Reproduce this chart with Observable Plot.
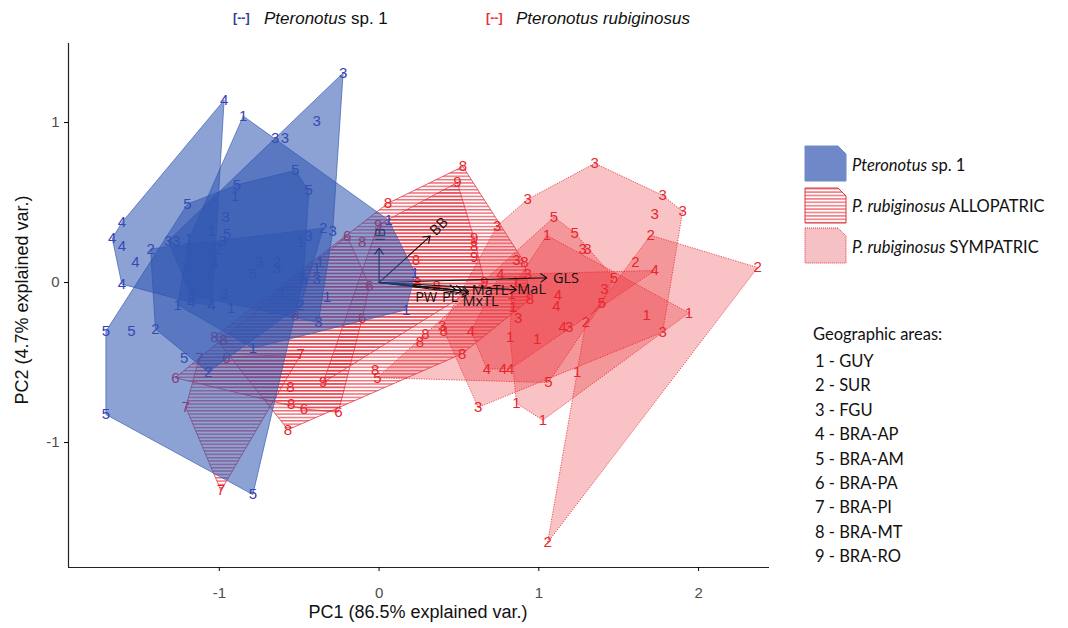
<!DOCTYPE html>
<html><head><meta charset="utf-8">
<script src="https://cdn.jsdelivr.net/npm/d3@7"></script>
<script src="https://cdn.jsdelivr.net/npm/@observablehq/plot@0.6"></script>
<style>
body{margin:0;background:#fff;}
#wrap{position:relative;width:1068px;height:628px;overflow:hidden;font-family:"Liberation Sans",Arial,sans-serif;}
#wrap svg.plot{position:absolute;left:0;top:0;}
.abs{position:absolute;white-space:nowrap;line-height:1;}
.cal{font-family:Lato,"Open Sans",sans-serif;color:#111;}
g[aria-label="x-axis tick label"], g[aria-label="y-axis tick label"]{fill:#4d4d4d;}
</style></head><body><div id="wrap"></div>
<script>
// ---- Geographic areas (digit code = index+1)
const areaNames = ["GUY","SUR","FGU","BRA-AP","BRA-AM","BRA-PA","BRA-PI","BRA-MT","BRA-RO"];

// ---- Pteronotus sp. 1 scores [PC1, PC2] by area
const sp1_GUY = [[-0.85,1.04],[0.06,0.39],[0.225,0.06],[0.17,-0.17],[-0.79,-0.41],[-1.26,-0.14],[-1.19,0.27],[-0.90,0.54],[-1.05,0.32],[-0.49,0.25],[-0.37,0.13],[-0.39,0.09],[-0.61,-0.06],[-0.325,-0.09],[-0.925,-0.16]];
const sp1_SUR = [[-1.43,0.21],[-0.35,0.34],[-0.49,-0.14],[-1.07,-0.56],[-1.40,-0.29],[-1.01,0.21],[-0.64,0.125]];
const sp1_FGU = [[-0.225,1.31],[-0.39,1.01],[-0.65,0.90],[-0.59,0.90],[-1.32,0.26],[-1.27,0.26],[-0.96,0.41],[-0.98,0.26],[-0.44,0.29],[-0.29,0.32],[-0.75,0.13],[-0.64,0.09],[-0.39,0.02],[-1.175,-0.08],[-0.97,-0.07],[-0.38,-0.25]];
const sp1_BRA_AP = [[-0.97,1.14],[-1.61,0.375],[-1.67,0.275],[-1.61,0.225],[-1.61,-0.01],[-1.525,0.125],[-1.03,0.12],[-1.175,-0.125],[-1.05,-0.14]];
const sp1_BRA_AM = [[-1.20,0.49],[-0.525,0.70],[-0.44,0.575],[-0.89,0.61],[-0.95,0.30],[-0.79,0.055],[-0.475,0.02],[-1.71,-0.305],[-1.55,-0.305],[-1.22,-0.475],[-1.71,-0.825],[-0.79,-1.325]];

// ---- P. rubiginosus ALLOPATRIC
const allo_BRA_PA = [[-0.20,0.29],[-0.06,-0.02],[-0.105,-0.22],[-0.955,-0.475],[-1.275,-0.595],[-0.47,-0.79],[-0.255,-0.81]];
const allo_BRA_PI = [[-1.125,-0.47],[-1.21,-0.78],[-0.99,-1.30],[-0.49,-0.45]];
const allo_BRA_MT = [[0.525,0.725],[0.055,0.495],[-0.105,0.25],[0.23,0.14],[0.595,0.23],[0.24,-0.005],[0.36,-0.02],[0.91,0.125],[0.945,-0.105],[0.29,-0.32],[0.255,-0.375],[0.405,-0.305],[0.52,-0.445],[-0.025,-0.55],[-0.525,-0.205],[-1.03,-0.34],[-0.975,-0.36],[-0.555,-0.655],[-0.55,-0.76],[-0.57,-0.92]];
const allo_BRA_RO = [[-0.005,0.36],[0.49,0.625],[0.595,0.275],[0.595,0.16],[0.66,0.0],[-0.35,-0.625]];

// ---- P. rubiginosus SYMPATRIC
const sym_GUY = [[1.05,0.295],[0.855,0.0],[0.83,-0.07],[0.84,-0.155],[0.82,-0.34],[0.99,-0.355],[0.86,-0.755],[1.025,-0.86],[1.24,-0.56],[1.675,-0.205],[1.94,-0.19]];
const sym_SUR = [[1.70,0.295],[2.37,0.094],[1.055,-1.625],[1.295,-0.245],[1.605,0.13]];
const sym_FGU = [[1.35,0.745],[1.775,0.545],[1.90,0.445],[1.725,0.43],[0.93,0.52],[0.74,0.355],[0.86,0.14],[1.275,0.21],[1.305,0.21],[0.93,0.055],[1.41,-0.04],[0.87,-0.225],[1.19,-0.28],[1.775,-0.31],[0.62,-0.78],[0.395,-0.275]];
const sym_BRA_AP = [[0.76,0.05],[1.725,0.075],[1.12,-0.08],[1.11,-0.15],[1.15,-0.28],[0.575,-0.305],[0.675,-0.54],[0.775,-0.54],[0.82,-0.54]];
const sym_BRA_AM = [[1.095,0.41],[1.225,0.31],[1.47,0.03],[1.395,-0.13],[1.06,-0.625],[-0.01,-0.595]];

// ---- variable loadings (arrow tips) and label anchor points
const varNames = ["IB","BB","GLS","MaL","MaTL","MxTL","PL","PW"];
const varPC1 = [0, 0.32, 1.05, 0.86, 0.56, 0.56, 0.52, 0.48];
const varPC2 = [0.215, 0.29, 0.03, -0.045, -0.055, -0.07, -0.05, -0.045];
const varLabPC1 = [0.01, 0.375, 1.17, 0.955, 0.695, 0.635, 0.445, 0.295];
const varLabPC2 = [0.30, 0.35, 0.025, -0.04, -0.05, -0.12, -0.095, -0.095];
const varLabRotate = [-90, -45, 0, 0, 0, 0, 0, 0];

// ---- axes
const xDomain = [-1.944, 2.444];
const yDomain = [-1.781, 1.494];
const xTicks = [-1, 0, 1, 2];
const yTicks = [-1, 0, 1];

function rows(arr, status, area) {
  return arr.map(([x, y]) => ({x, y, status, area: String(area), grp: status + area}));
}
const blue = [].concat(rows(sp1_GUY,"sp1",1), rows(sp1_SUR,"sp1",2), rows(sp1_FGU,"sp1",3), rows(sp1_BRA_AP,"sp1",4), rows(sp1_BRA_AM,"sp1",5));
const allo = [].concat(rows(allo_BRA_PA,"allo",6), rows(allo_BRA_PI,"allo",7), rows(allo_BRA_MT,"allo",8), rows(allo_BRA_RO,"allo",9));
const sym = [].concat(rows(sym_GUY,"sym",1), rows(sym_SUR,"sym",2), rows(sym_FGU,"sym",3), rows(sym_BRA_AP,"sym",4), rows(sym_BRA_AM,"sym",5));
const vars = varNames.map((n, i) => ({n, x: varPC1[i], y: varPC2[i], lx: varLabPC1[i], ly: varLabPC2[i], r: varLabRotate[i]}));

const RED = "#e8262e";
const BLUE = "#2f55b0";
const SENTINEL = "#fe0001";
const digitFont = {fontSize: 15, fontFamily: "Liberation Sans, Arial, sans-serif"};

const svg = Plot.plot({
  width: 1068, height: 628,
  marginLeft: 68, marginRight: 299, marginTop: 43, marginBottom: 61,
  x: {domain: xDomain},
  y: {domain: yDomain},
  style: {fontFamily: "Liberation Sans, Arial, sans-serif", background: "transparent"},
  marks: [
    Plot.hull(sym, {x: "x", y: "y", z: "grp", fill: RED, fillOpacity: 0.28, stroke: RED, strokeWidth: 0.8, strokeDasharray: "1.2,1.3"}),
    Plot.hull(allo, {x: "x", y: "y", z: "grp", fill: SENTINEL, stroke: "#e03a46", strokeWidth: 0.8}),
    Plot.text(sym.concat(allo), {x: "x", y: "y", text: "area", fill: RED, ...digitFont}),
    Plot.arrow(vars, {x1: 0, y1: 0, x2: "x", y2: "y", stroke: "#111", strokeWidth: 1.1, headLength: 10, headAngle: 70}),
    Plot.text(vars, {x: "lx", y: "ly", text: "n", rotate: "r", fill: "#111", fontSize: 14.5, fontFamily: "Open Sans, sans-serif"}),
    Plot.text(blue, {x: "x", y: "y", text: "area", fill: "#3a3ab2", ...digitFont}),
    Plot.hull(blue, {x: "x", y: "y", z: "grp", fill: BLUE, fillOpacity: 0.55, stroke: BLUE, strokeOpacity: 0.8, strokeWidth: 0.8}),
    Plot.ruleX([xDomain[0]], {stroke: "#222", strokeWidth: 1.2}),
    Plot.ruleY([yDomain[0]], {stroke: "#222", strokeWidth: 1.2}),
    Plot.axisX({ticks: xTicks, tickSize: 4, tickPadding: 16, fontSize: 15, label: null, tickFormat: d => d}),
    Plot.axisY({ticks: yTicks, tickSize: 4, tickPadding: 5, fontSize: 15, label: null, tickFormat: d => d})
  ]
});
svg.classList.add("plot");

// hatch pattern for allopatric hulls
const ns = "http://www.w3.org/2000/svg";
const defs = document.createElementNS(ns, "defs");
const pat = document.createElementNS(ns, "pattern");
pat.setAttribute("id", "hatch"); pat.setAttribute("patternUnits", "userSpaceOnUse");
pat.setAttribute("width", "8"); pat.setAttribute("height", "3.35");
const ln = document.createElementNS(ns, "line");
ln.setAttribute("x1", "0"); ln.setAttribute("x2", "8"); ln.setAttribute("y1", "1.6"); ln.setAttribute("y2", "1.6");
ln.setAttribute("stroke", "#e42c38"); ln.setAttribute("stroke-width", "1");
pat.appendChild(ln); defs.appendChild(pat);
svg.insertBefore(defs, svg.firstChild);
svg.querySelectorAll("[fill]").forEach(el => {
  const f = (el.getAttribute("fill") || "").toLowerCase();
  if (f === SENTINEL || f === "rgb(254, 0, 1)") el.setAttribute("fill", "url(#hatch)");
});

const wrap = document.getElementById("wrap");
wrap.appendChild(svg);

function add(html, css) { const d = document.createElement("div"); d.className = "abs"; d.innerHTML = html; Object.assign(d.style, css); wrap.appendChild(d); return d; }

// axis titles
add("PC1 (86.5% explained var.)", {left: "418px", top: "612px", transform: "translate(-50%,-50%)", fontSize: "18px", color: "#111"});
add("PC2 (4.7% explained var.)", {left: "22px", top: "300px", transform: "translate(-50%,-50%) rotate(-90deg)", fontSize: "18px", color: "#111"});

// top legend
add("[--]", {left: "233px", top: "18px", transform: "translateY(-50%)", fontSize: "12.5px", fontWeight: "bold", color: "#2d3f8e"});
add("<i>Pteronotus</i> sp. 1", {left: "264px", top: "18px", transform: "translateY(-50%)", fontSize: "17px", color: "#111"});
add("[--]", {left: "486px", top: "18px", transform: "translateY(-50%)", fontSize: "12.5px", fontWeight: "bold", color: "#e8303c"});
add("<i>Pteronotus rubiginosus</i>", {left: "516px", top: "18px", transform: "translateY(-50%)", fontSize: "17px", color: "#111"});

// right legend swatches
const sw = (fill, stroke, dash, hatch) => `<svg width="44" height="38" style="display:block">
<defs><pattern id="lh" patternUnits="userSpaceOnUse" width="8" height="3.4"><line x1="0" y1="1.7" x2="8" y2="1.7" stroke="#e8303c" stroke-width="1"/></pattern></defs>
<path d="M1,1 H34 L42,9 V36 H1 Z" fill="${hatch ? "url(#lh)" : fill}" stroke="${stroke}" stroke-width="1" ${dash ? 'stroke-dasharray="1,1"' : ""}/></svg>`;
add(sw("#6f88c8", "#6f88c8", false, false), {left: "804px", top: "145px"});
add(sw("#fff", "#d8343f", false, true), {left: "804px", top: "187px"});
add(sw("#f6c1c5", "#e8303c", true, false), {left: "804px", top: "227px"});
add("<i>Pteronotus</i> sp. 1", {left: "852px", top: "165px", transform: "translateY(-50%)", fontSize: "16.5px"}).classList.add("cal");
add("<i>P. rubiginosus</i> ALLOPATRIC", {left: "852px", top: "206px", transform: "translateY(-50%)", fontSize: "16.5px"}).classList.add("cal");
add("<i>P. rubiginosus</i> SYMPATRIC", {left: "852px", top: "247px", transform: "translateY(-50%)", fontSize: "16.5px"}).classList.add("cal");

// geographic areas list
add("Geographic areas:", {left: "813px", top: "334px", transform: "translateY(-50%)", fontSize: "16.5px"}).classList.add("cal");
areaNames.forEach((n, i) => {
  add(`${i + 1} - ${n}`, {left: "815px", top: (361 + i * 24.4) + "px", transform: "translateY(-50%)", fontSize: "16.5px"}).classList.add("cal");
});
</script></body></html>
